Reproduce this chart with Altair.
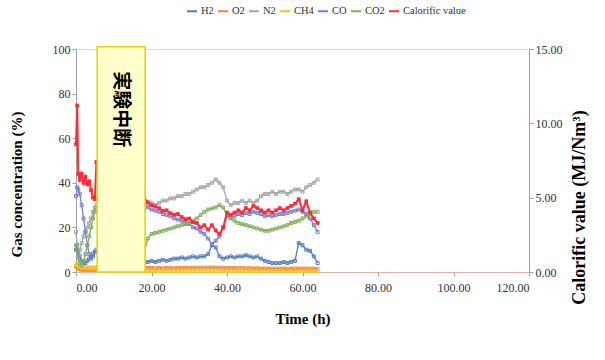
import altair as alt
import pandas as pd

series_names = ["H2", "O2", "N2", "CH4", "CO", "CO2", "Calorific value"]
series_colors = ["#4F7FBF", "#F08A3C", "#A5A5A5", "#F5C518", "#7A7FD0", "#7FB05A", "#FF2A3A"]

# before the interruption
time_pre = [0.0, 0.3, 0.6, 1.0, 1.5, 2.0, 2.5, 3.0, 3.5, 4.0, 4.5, 5.0, 5.4]
h2_pre = [10, 12, 9, 7, 5, 4, 4, 5, 6, 7, 8, 9, 9]
o2_pre = [2.5, 2, 1.5, 1.2, 1, 1, 1, 1, 1, 1, 1, 1, 1]
n2_pre = [18, 12, 8, 10, 13, 16, 18, 20, 22, 24, 27, 29, 30]
ch4_pre = [3, 3.5, 3, 2.5, 2, 2, 2, 2, 2, 2, 2, 2, 2]
co_pre = [34, 38, 37, 35, 30, 24, 18, 12, 8, 6, 7, 9, 10]
co2_pre = [12, 10, 6, 4, 3, 5, 8, 12, 16, 20, 24, 27, 28]
cv_pre = [8.6, 11.2, 6.6, 6.2, 6.6, 6.0, 6.4, 5.9, 6.1, 5.5, 5.0, 4.9, 7.4]

# after the interruption
time_post = [18, 19, 20, 21, 22, 23, 24, 25, 26, 27, 28, 29, 30, 31, 32, 33,
             34, 35, 36, 37, 38, 39, 40, 41, 42, 43, 44, 45, 46, 47, 48, 49,
             50, 51, 52, 53, 54, 55, 56, 57, 58, 59, 60, 61, 62, 63, 64]
h2_post = [5, 4.5, 5, 4.5, 5, 5.5, 5, 5.5, 6, 6, 6.5, 6, 6.5, 7, 6.5, 7,
           7, 8, 12, 11, 7, 6, 6.5, 7, 6.5, 7, 7, 7.5, 7, 6.5, 7, 6,
           5, 4.5, 4, 4, 4, 4.5, 4, 4.5, 5, 13, 12, 10, 9.5, 7, 4]
o2_post = [2, 1.8, 1.8, 1.7, 1.8, 1.7, 1.8, 1.8, 1.7, 1.8, 1.8, 1.9, 1.8, 1.9, 1.9, 2,
           2, 2, 2.1, 2, 2, 1.9, 1.8, 1.8, 1.8, 1.7, 1.8, 1.7, 1.7, 1.6, 1.7, 1.6,
           1.6, 1.5, 1.6, 1.5, 1.5, 1.6, 1.5, 1.5, 1.6, 1.6, 1.5, 1.6, 1.5, 1.5, 1.5]
n2_post = [28, 30, 31, 30, 31, 32, 32, 33, 33, 34, 34, 35, 35, 36, 37, 38,
           38, 39, 40, 41.5, 40, 38, 32, 30, 31, 31, 32, 31, 32, 31, 32, 34,
           35, 35, 36, 35, 36, 36, 35, 36, 37, 37, 36, 38, 39, 40, 41.5]
ch4_post = [0.6, 0.5, 0.5, 0.5, 0.5, 0.5, 0.5, 0.5, 0.5, 0.5, 0.5, 0.5, 0.5, 0.5, 0.5, 0.5,
            0.5, 0.5, 0.5, 0.5, 0.5, 0.5, 0.5, 0.5, 0.5, 0.5, 0.5, 0.5, 0.5, 0.5, 0.5, 0.5,
            0.5, 0.5, 0.5, 0.5, 0.5, 0.5, 0.5, 0.5, 0.5, 0.5, 0.5, 0.5, 0.5, 0.5, 0.5]
co_post = [31, 29, 28, 27.5, 27, 26, 25.5, 25, 24, 23.5, 23, 22, 21.5, 20, 19.5, 18,
           17, 15, 12.5, 14, 16, 20, 25, 24.5, 25, 26, 25.5, 26.5, 26, 27, 26.5, 26,
           25, 25.5, 25, 25.5, 26, 26, 26.5, 27, 27.5, 28, 27, 26, 24, 21, 18]
co2_post = [8, 15, 17, 17.5, 18, 18.5, 19, 19.5, 20, 20.5, 21, 21.5, 22, 23, 24, 25.5,
            27, 28, 28.5, 29, 30, 29, 25, 24, 23, 22, 21.5, 21, 20.5, 20, 19.5, 19,
            18.5, 18.5, 19, 19.5, 20, 20.5, 21, 22, 22.5, 23, 24, 25, 26, 27, 27]
cv_post = [5.0, 4.7, 4.5, 4.4, 4.3, 4.1, 4.15, 3.95, 3.85, 3.9, 3.7, 3.55, 3.6, 3.35, 3.3, 3.0,
           3.15, 2.85, 3.15, 2.8, 2.55, 3.0, 4.0, 3.85, 4.0, 4.15, 4.0, 4.3, 4.15, 4.45, 4.3, 4.15,
           4.0, 4.15, 4.0, 4.15, 4.3, 4.15, 4.3, 4.45, 4.6, 4.9, 4.15, 4.75, 4.0, 3.6, 3.3]

box_x = [5.6]
box_x2 = [18.3]
box_label = ["実験中断"]

gas_pre = {"H2": h2_pre, "O2": o2_pre, "N2": n2_pre, "CH4": ch4_pre, "CO": co_pre, "CO2": co2_pre}
gas_post = {"H2": h2_post, "O2": o2_post, "N2": n2_post, "CH4": ch4_post, "CO": co_post, "CO2": co2_post}

rows = []
for name in gas_pre:
    for t, v in zip(time_pre, gas_pre[name]):
        rows.append({"time": t, "value": v, "series": name, "seg": name + "_a"})
    for t, v in zip(time_post, gas_post[name]):
        rows.append({"time": t, "value": v, "series": name, "seg": name + "_b"})
gas_df = pd.DataFrame(rows)

cv_rows = []
for t, v in zip(time_pre, cv_pre):
    cv_rows.append({"time": t, "value": v, "series": "Calorific value", "seg": "cv_a"})
for t, v in zip(time_post, cv_post):
    cv_rows.append({"time": t, "value": v, "series": "Calorific value", "seg": "cv_b"})
cv_df = pd.DataFrame(cv_rows)

FONT = "Liberation Serif"
PLOT_H = 223

x_enc = alt.X("time:Q", scale=alt.Scale(domain=[0, 120], nice=False),
              axis=alt.Axis(title="Time (h)", values=[0, 20, 40, 60, 80, 100, 120], format=".2f",
                            grid=False, titleFontSize=15, titleFont=FONT, titleFontWeight="bold",
                            titleColor="#000", labelFont=FONT, labelFontSize=12, labelColor="#333",
                            domainColor="#DDB0B0", tickColor="#A0A0A0", tickSize=4,
                            labelPadding=6, titlePadding=18))

color_enc = alt.Color("series:N", scale=alt.Scale(domain=series_names, range=series_colors),
                      legend=alt.Legend(title=None, orient="none", direction="horizontal",
                                        legendX=110, legendY=-44, symbolType="stroke",
                                        symbolStrokeWidth=2, symbolSize=100, labelFont=FONT,
                                        labelFontSize=10.5, labelColor="#333", columnPadding=0,
                                        labelOffset=3))

gas = alt.Chart(gas_df).mark_line(
    strokeWidth=1.3,
    point=alt.OverlayMarkDef(shape="square", size=9, filled=False, strokeWidth=1),
).encode(
    x=x_enc,
    y=alt.Y("value:Q", scale=alt.Scale(domain=[0, 100], nice=False),
            axis=alt.Axis(title="Gas concentration (%)", values=[0, 20, 40, 60, 80, 100],
                          grid=False, orient="left", titleFontSize=15, titleFont=FONT,
                          titleFontWeight="bold", titleColor="#000", labelFont=FONT,
                          labelFontSize=12, labelColor="#333", domainColor="#A0A0A0",
                          tickColor="#A0A0A0", tickSize=4, titlePadding=28,
                          titleY=135)),
    color=color_enc,
    detail="seg:N",
)

cv = alt.Chart(cv_df).mark_line(
    strokeWidth=2,
    point=alt.OverlayMarkDef(shape="square", size=14, filled=True),
).encode(
    x=alt.X("time:Q"),
    y=alt.Y("value:Q", scale=alt.Scale(domain=[0, 15], nice=False),
            axis=alt.Axis(title="Calorific value (MJ/Nm³)", values=[0, 5, 10, 15], format=".2f",
                          grid=False, orient="right", titleFontSize=18, titleFont=FONT,
                          titleFontWeight="bold", titleColor="#000", titleAngle=270,
                          labelFont=FONT, labelFontSize=12, labelColor="#333",
                          domainColor="#A0A0A0", tickColor="#A0A0A0", tickSize=4,
                          titlePadding=26, titleY=158)),
    color=alt.Color("series:N"),
    detail="seg:N",
)

box_df = pd.DataFrame({"x": box_x, "x2": box_x2, "label": box_label})
box = alt.Chart(box_df).mark_rect(fill="#FFFFCC", stroke="#E6D200", strokeWidth=1.5).encode(
    x=alt.X("x:Q"), x2="x2:Q",
    y=alt.Y("y0:Q", scale=alt.Scale(domain=[0, 100], nice=False), axis=None),
    y2="y1:Q",
).transform_calculate(y0="0", y1="101")
txt = alt.Chart(box_df).mark_text(angle=90, font="Noto Sans CJK JP", fontWeight="bold",
                                  fontSize=19, color="#000").encode(
    x=alt.X("xc:Q"),
    y=alt.Y("yc:Q", scale=alt.Scale(domain=[0, 100], nice=False), axis=None),
    text="label:N",
).transform_calculate(xc="(datum.x + datum.x2) / 2", yc="73")

overlay = alt.layer(box, txt)

chart = alt.layer(gas, cv, overlay).resolve_scale(y="independent").properties(
    width=453, height=PLOT_H,
    autosize=alt.AutoSizeParams(type="none"),
    padding={"left": 76, "top": 49, "right": 76, "bottom": 88},
).configure_view(stroke=None).configure(background="white")

chart.save("out.html", embed_options={"renderer": "svg", "actions": False})
